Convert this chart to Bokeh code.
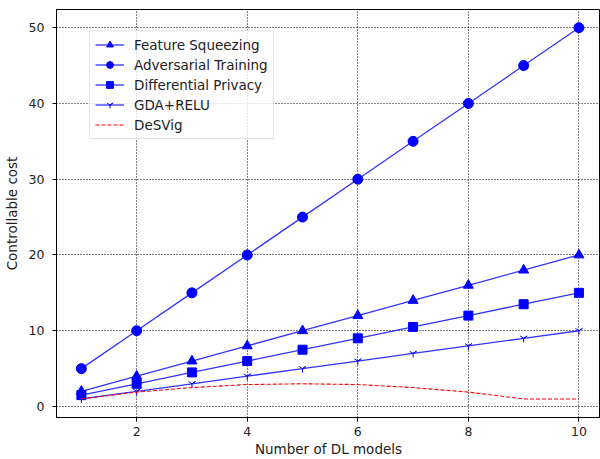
from bokeh.plotting import figure
from bokeh.models import Legend, LegendItem, FixedTicker, Range1d
from bokeh.embed import file_html
from bokeh.resources import INLINE

models = [1, 2, 3, 4, 5, 6, 7, 8, 9, 10]
feature_squeezing = [2, 4, 6, 8, 10, 12, 14, 16, 18, 20]
adversarial_training = [5, 10, 15, 20, 25, 30, 35, 40, 45, 50]
differential_privacy = [1.5, 3, 4.5, 6, 7.5, 9, 10.5, 12, 13.5, 15]
gda_relu = [1, 2, 3, 4, 5, 6, 7, 8, 9, 10]
desvig = [1.0, 1.9, 2.5, 2.9, 3.0, 2.9, 2.5, 1.9, 1.0, 1.0]

x_ticks = [2, 4, 6, 8, 10]
y_ticks = [0, 10, 20, 30, 40, 50]

FONT = "DejaVu Sans"
BLUE = "#0000ff"
FS = "13.5px"
TFS = "12.5px"

p = figure(width=600, height=459, output_backend="svg", toolbar_location=None,
           x_range=Range1d(0.55, 10.39), y_range=Range1d(-1.45, 52.4),
           min_border_left=55, min_border_right=0, min_border_top=9, min_border_bottom=41)
p.outline_line_color = "black"
p.outline_line_width = 1
p.background_fill_color = "white"

for ax in (p.xaxis[0], p.yaxis[0]):
    ax.major_tick_in = 0
    ax.major_tick_out = 4
    ax.minor_tick_line_color = None
    ax.axis_line_color = "black"
    ax.major_tick_line_color = "black"
    ax.major_label_text_font = FONT
    ax.major_label_text_font_size = TFS
    ax.major_label_text_color = "#222222"
    ax.axis_label_text_font = FONT
    ax.axis_label_text_font_size = FS
    ax.axis_label_text_font_style = "normal"
    ax.axis_label_text_color = "#222222"

p.xaxis.ticker = FixedTicker(ticks=x_ticks)
p.yaxis.ticker = FixedTicker(ticks=y_ticks)
p.xaxis.axis_label = "Number of DL models"
p.yaxis.axis_label = "Controllable cost"
p.xaxis.major_label_standoff = 5
p.xaxis.axis_label_standoff = 2
p.yaxis.major_label_standoff = 8
p.yaxis.axis_label_standoff = 6

for g in (p.xgrid[0], p.ygrid[0]):
    g.grid_line_color = "black"
    g.grid_line_dash = "1 2"
    g.grid_line_width = 1

lw = 1.3
la = 0.8
l1 = p.line(models, feature_squeezing, line_color=BLUE, line_width=lw, line_alpha=la)
m1 = p.scatter(models, feature_squeezing, marker="triangle", size=10, color=BLUE)
l2 = p.line(models, adversarial_training, line_color=BLUE, line_width=lw, line_alpha=la)
m2 = p.scatter(models, adversarial_training, marker="circle", size=10, color=BLUE)
l3 = p.line(models, differential_privacy, line_color=BLUE, line_width=lw, line_alpha=la)
m3 = p.scatter(models, differential_privacy, marker="square", size=9, color=BLUE)
l4 = p.line(models, gda_relu, line_color=BLUE, line_width=lw, line_alpha=la)
m4 = p.scatter(models, gda_relu, marker="y", size=8, line_color=BLUE, line_width=1)
l5 = p.line(models, desvig, line_color="#ff0000", line_width=1.1, line_dash="4 2")

legend = Legend(items=[
    LegendItem(label="Feature Squeezing", renderers=[l1, m1]),
    LegendItem(label="Adversarial Training", renderers=[l2, m2]),
    LegendItem(label="Differential Privacy", renderers=[l3, m3]),
    LegendItem(label="GDA+RELU", renderers=[l4, m4]),
    LegendItem(label="DeSVig", renderers=[l5]),
], location=(33, 278))
legend.label_text_font = FONT
legend.label_text_font_size = FS
legend.label_text_color = "#222222"
legend.glyph_width = 29
legend.glyph_height = 17
legend.label_height = 17
legend.label_standoff = 10
legend.spacing = 3
legend.padding = 5
legend.margin = 0
legend.border_line_color = "#cccccc"
legend.border_line_width = 1
legend.background_fill_color = "white"
legend.background_fill_alpha = 0.8
p.add_layout(legend, "center")

open("out.html", "w").write(file_html(p, INLINE))
